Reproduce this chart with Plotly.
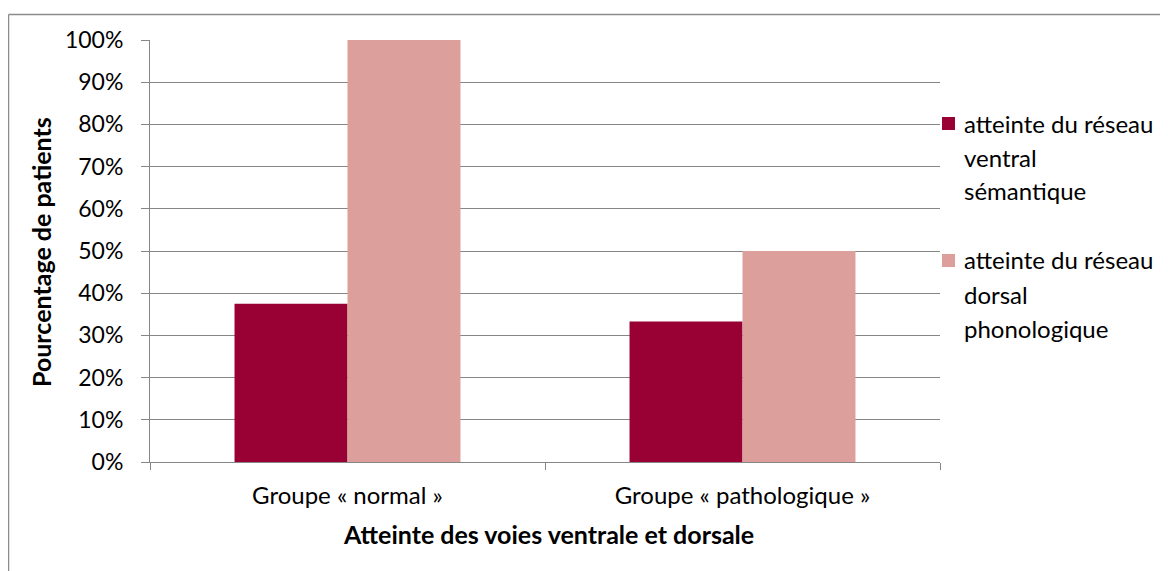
import plotly.graph_objects as go

categories = ["Groupe « normal »", "Groupe « pathologique »"]
series_names = ["atteinte du réseau<br>ventral<br>sémantique",
                "atteinte du réseau<br>dorsal<br>phonologique"]
ventral = [0.375, 0.333]
dorsal = [1.0, 0.5]
colors = ["#990033", "#DD9F9C"]
y_ticks = [0, 0.1, 0.2, 0.3, 0.4, 0.5, 0.6, 0.7, 0.8, 0.9, 1.0]

OFF = 8  # browser body margin
W, H = 1168 - OFF, 571 - OFF
px = lambda x: (x - OFF) / W
py = lambda y: 1 - (y - OFF) / H
FONT = "Lato"
FS = 24
FS_Y = 23
FS_B = 25
GRID = "#868686"

fig = go.Figure()
for name, vals, col in zip(series_names, [ventral, dorsal], colors):
    fig.add_trace(go.Bar(x=categories, y=vals, name=name, marker_color=col,
                         marker_line_width=0, showlegend=False))

fig.update_layout(
    template="none",
    width=W, height=H,
    margin=dict(l=0, r=0, t=0, b=0, pad=0),
    paper_bgcolor="white", plot_bgcolor="white",
    barmode="group", bargap=0.428, bargroupgap=0,
    font=dict(family=FONT, size=FS, color="black"),
    xaxis=dict(domain=[px(150), px(940)], type="category", automargin=False,
               showline=True, linecolor=GRID, linewidth=1,
               ticks="outside", tickson="boundaries", ticklen=7, tickcolor=GRID,
               tickfont=dict(size=FS), ticklabelstandoff=12, showgrid=False),
    yaxis=dict(domain=[py(462), py(40)], range=[0, 1], tickvals=y_ticks, automargin=False,
               tickformat=".0%", showline=True, linecolor=GRID, linewidth=1,
               ticks="outside", ticklen=8, tickcolor=GRID,
               showgrid=True, gridcolor=GRID, gridwidth=1,
               tickfont=dict(size=FS_Y), ticklabelstandoff=13, zeroline=False),
)

# outer chart border: only top and left edges are visible in the image
border = dict(color="#8C8C8C", width=1.5)
fig.add_shape(type="line", xref="paper", yref="paper",
              x0=px(8.5), x1=1.0, y0=py(14.5), y1=py(14.5), line=border, layer="below")
fig.add_shape(type="line", xref="paper", yref="paper",
              x0=px(8.5), x1=px(8.5), y0=0, y1=py(14.5), line=border, layer="below")

# axis titles
fig.add_annotation(text="<b>Pourcentage de patients</b>", xref="paper", yref="paper",
                   x=px(41), y=py(252), textangle=-90, showarrow=False,
                   font=dict(size=FS_B), xanchor="center", yanchor="middle")
fig.add_annotation(text="<b>Atteinte des voies ventrale et dorsale</b>", xref="paper", yref="paper",
                   x=px(548), y=py(534), showarrow=False,
                   font=dict(size=FS_B), xanchor="center", yanchor="middle")

# legend (line spacing wider than plotly's default, so build by lines)
legend_tops = [123, 260]
for name, col, ytop in zip(series_names, colors, legend_tops):
    fig.add_shape(type="rect", xref="paper", yref="paper",
                  x0=px(942), x1=px(955), y0=py(ytop - 6), y1=py(ytop + 7),
                  fillcolor=col, line_width=0)
    for i, line in enumerate(name.split("<br>")):
        fig.add_annotation(text=line, xref="paper", yref="paper",
                           x=px(962), y=py(ytop + i * 34), showarrow=False,
                           xanchor="left", yanchor="middle", font=dict(size=FS))

fig.write_html("out.html")
